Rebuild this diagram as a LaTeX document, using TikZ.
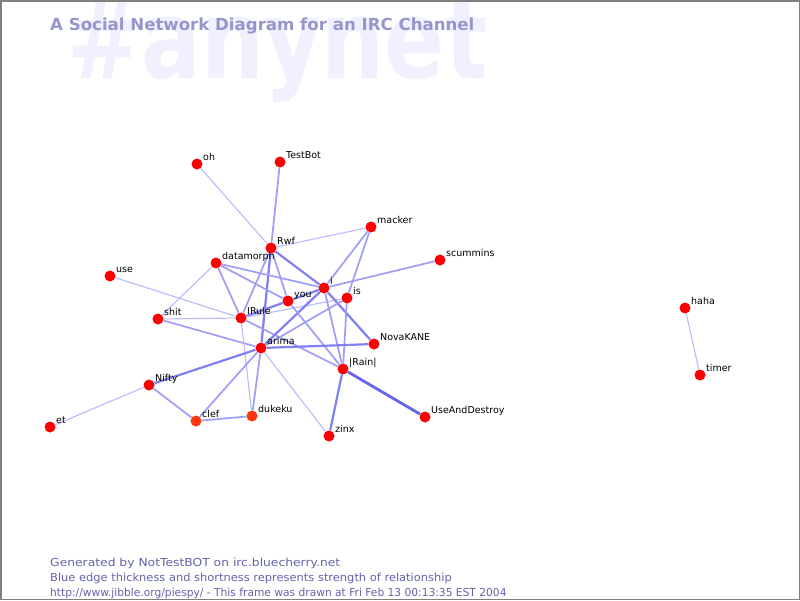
\documentclass[tikz,border=0pt]{standalone}
\usepackage{fontspec}
\setmainfont{DejaVu Sans}
\usetikzlibrary{backgrounds}
\definecolor{wmark}{RGB}{240,240,255}
\definecolor{titlec}{RGB}{150,150,204}
\definecolor{footc}{RGB}{100,100,170}
\definecolor{ew}{RGB}{186,186,255}
\definecolor{em}{RGB}{158,158,248}
\definecolor{es}{RGB}{128,128,242}
\definecolor{ev}{RGB}{100,100,236}
\definecolor{nodered}{RGB}{255,0,0}
\definecolor{nodeorange}{RGB}{255,55,10}
\tikzset{
  person/.style={circle,fill=nodered,draw=none,minimum size=11pt,inner sep=0pt},
  personb/.style={person,fill=nodeorange},
  lbl/.style={anchor=base west,inner sep=0pt,font=\fontsize{9.5}{10}\selectfont,text=black},
  foot/.style={anchor=base west,inner sep=0pt,text=footc,font=\fontsize{11}{12}\selectfont},
  weak/.style={draw=ew,line width=1.1pt},
  med/.style={draw=em,line width=1.7pt},
  strong/.style={draw=es,line width=2.2pt},
  vstrong/.style={draw=ev,line width=2.8pt},
}
\newcommand{\pnode}[5][person]{%
  \node[#1] (#2) at (#3,#4) {};
  \node[lbl] (#2-l) at (#3+6,#4-4) {#5};
}
\begin{document}
\begin{tikzpicture}[x=1pt,y=-1pt]
\useasboundingbox (0,0) rectangle (800,600);

\pnode{oh}{197}{164}{oh}
\pnode{TestBot}{280}{162}{TestBot}
\pnode{Rwf}{271}{248}{Rwf}
\pnode{macker}{371}{227}{macker}
\pnode{datamorph}{216}{263}{datamorph}
\pnode{scummins}{440}{260}{scummins}
\pnode{use}{110}{276}{use}
\pnode{i}{324}{288}{i}
\pnode{is}{347}{298}{is}
\pnode{you}{288}{301}{you}
\pnode{shit}{158}{319}{shit}
\pnode{IRule}{241}{318}{IRule}
\pnode{NovaKANE}{374}{344}{NovaKANE}
\pnode{arima}{261}{348}{arima}
\pnode{Rain}{343}{369}{|Rain|}
\pnode{Nifty}{149}{385}{Nifty}
\pnode{haha}{685}{308}{haha}
\pnode{timer}{700}{375}{timer}
\pnode{UAD}{425}{417}{UseAndDestroy}
\pnode[personb]{clef}{196}{421}{clef}
\pnode[personb]{dukeku}{252}{416}{dukeku}
\pnode{et}{50}{427}{et}
\pnode{zinx}{329}{436}{zinx}

\node[anchor=base west,inner sep=0pt,text=titlec,font=\fontsize{16.6}{17}\selectfont\bfseries] (title) at (50,30) {A Social Network Diagram for an IRC Channel};
\node[foot,xscale=1.12] (foot1) at (50,566) {Generated by NotTestBOT on irc.bluecherry.net};
\node[foot,xscale=1.04] (foot2) at (50,581) {Blue edge thickness and shortness represents strength of relationship};
\node[foot,xscale=0.97] (foot3) at (50,596) {http://www.jibble.org/piespy/ - This frame was drawn at Fri Feb 13 00:13:35 EST 2004};

\begin{pgfonlayer}{background}
\fill[white] (0,0) rectangle (800,600);
\node[anchor=base west,inner sep=0pt,text=wmark,font=\fontsize{110}{110}\selectfont\bfseries,xscale=0.805] (wm) at (67,78) {\#anynet};
\draw[gray,line width=1.5pt] (0.75,0.75) rectangle (799.25,599.25);
\draw[weak] (oh) -- (Rwf);
\draw[med] (TestBot) -- (Rwf);
\draw[weak] (Rwf) -- (macker);
\draw[med] (Rwf) -- (IRule);
\draw[strong] (Rwf) -- (arima);
\draw[med] (Rwf) -- (you);
\draw[strong] (Rwf) -- (i);
\draw[med] (datamorph) -- (i);
\draw[med] (datamorph) -- (you);
\draw[med] (datamorph) -- (IRule);
\draw[weak] (datamorph) -- (shit);
\draw[weak] (use) -- (IRule);
\draw[weak] (shit) -- (IRule);
\draw[med] (shit) -- (arima);
\draw[strong] (IRule) -- (you);
\draw[weak] (IRule) -- (is);
\draw[med] (IRule) -- (Rain);
\draw[weak] (IRule) -- (dukeku);
\draw[strong] (i) -- (you);
\draw[med] (i) -- (macker);
\draw[med] (i) -- (scummins);
\draw[strong] (i) -- (arima);
\draw[strong] (i) -- (NovaKANE);
\draw[med] (i) -- (Rain);
\draw[med] (is) -- (macker);
\draw[med] (is) -- (arima);
\draw[med] (is) -- (Rain);
\draw[med] (you) -- (Rain);
\draw[strong] (arima) -- (NovaKANE);
\draw[strong] (arima) -- (Nifty);
\draw[med] (arima) -- (clef);
\draw[med] (arima) -- (dukeku);
\draw[weak] (arima) -- (zinx);
\draw[weak] (Nifty) -- (et);
\draw[med] (Nifty) -- (clef);
\draw[med] (clef) -- (dukeku);
\draw[vstrong] (Rain) -- (UAD);
\draw[strong] (Rain) -- (zinx);
\draw[weak] (haha) -- (timer);
\end{pgfonlayer}
\end{tikzpicture}
\end{document}
